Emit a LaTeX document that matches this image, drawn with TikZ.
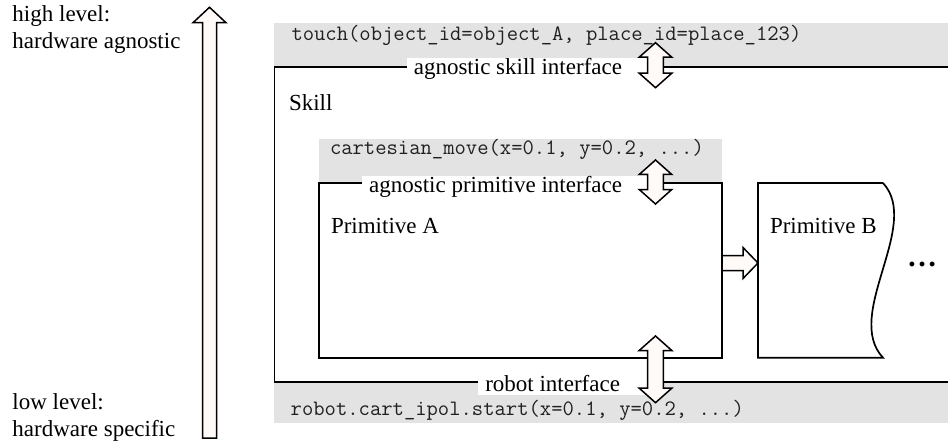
\documentclass[tikz,border=0pt]{standalone}
\usepackage{fontspec}
\setmainfont{Liberation Serif}
\definecolor{codebg}{HTML}{E3E3E3}
\definecolor{codefg}{HTML}{202020}
\definecolor{arrowfill}{HTML}{FFF9F7}

% vertical two-headed interface arrow: centre x, top tip y, bottom tip y
\newcommand\ifacearrow[3]{%
  \draw[hollow] (#1,#2) -- ++(16.3,14.5) -- ++(-8.5,0) -- (#1+7.8,#3-14.5)
    -- ++(8.5,0) -- (#1,#3) -- ++(-16.3,-14.5) -- ++(8.5,0)
    -- (#1-7.8,#2+14.5) -- ++(-8.5,0) -- cycle;}

\begin{document}
\begin{tikzpicture}[x=1pt,y=-1pt,
  every node/.style={inner sep=0pt, outer sep=0pt},
  txt/.style={font=\fontsize{23}{27}\selectfont},
  code/.style={font=\fontsize{22}{24}\selectfont\ttfamily, text=codefg},
  frame/.style={draw=black, line width=1.7pt},
  iface/.style={txt, fill=white, inner xsep=7pt, inner ysep=0.4pt, text depth=2.6pt},
  hollow/.style={draw=black, line width=1.5pt, fill=arrowfill, line join=miter},
]
\useasboundingbox (0,0) rectangle (948,441);
\coordinate (shaft) at (648,0);

% abstraction scale on the left
\node[txt, align=left, anchor=north west] (high) at (12.5,6) {high level:\\hardware agnostic};
\node[txt, align=left, anchor=north west] (low) at (12.5,393.8) {low level:\\hardware specific};
\draw[hollow] (209.5,7.3) -- (226,22.7) -- (216.5,22.7) -- (216.5,438)
  -- (202.5,438) -- (202.5,22.7) -- (193,22.7) -- cycle;

% code bands
\fill[codebg] (274,23) rectangle (948,66);
\fill[codebg] (319,139) rectangle (722,183);
\fill[codebg] (274,382) rectangle (948,423);
\node[code, anchor=base west] (touch) at (291.5,40.5) {touch(object\_id=object\_A, place\_id=place\_123)};
\node[code, anchor=base west] (cmove) at (330,155) {cartesian\_move(x=0.1, y=0.2, ...)};
\node[code, anchor=base west] (ipol) at (290.7,415) {robot.cart\_ipol.start(x=0.1, y=0.2, ...)};

% skill frame (runs on past the right edge)
\draw[frame] (950,66.7) -- (274.5,66.7) -- (274.5,381.7) -- (950,381.7);
\node[txt, anchor=base west] (skill) at (289,110.7) {Skill};

% primitives
\draw[frame] (319,183) rectangle (722,357.7);
\node[txt, anchor=base west] (primA) at (331,233) {Primitive A};
\draw[frame, fill=white] (883,183) -- (758,183) -- (758,357.7) -- (883,357.7)
  .. controls (843,315) and (922,225) .. (883,183);
\node[txt, anchor=base west] (primB) at (770,233) {Primitive B};
\node[font=\fontsize{30}{30}\selectfont\bfseries, anchor=base] (more) at (922,266) {…};

% interface labels sitting on the frame lines
\node[iface, anchor=base east] (skillif) at (629,75) {agnostic skill interface};
\fill[white] (skillif.north east) rectangle (shaft |- skillif.south);
\node[iface, anchor=base east] (primif) at (629,192.7) {agnostic primitive interface};
\fill[white] (primif.north east) rectangle (shaft |- primif.south);
\node[iface, anchor=base east] (robotif) at (627,391.7) {robot interface};
\fill[white] (robotif.north east) rectangle (shaft |- robotif.south);

% interface arrows
\ifacearrow{655.5}{42.7}{87.7}
\ifacearrow{655.5}{160}{204}
\ifacearrow{655.5}{336}{402.7}

% hand-over from primitive A to primitive B
\draw[hollow] (722,255.5) -- (743,255.5) -- (743,247.5) -- (758,263)
  -- (743,278.5) -- (743,270.5) -- (722,270.5) -- cycle;
\end{tikzpicture}
\end{document}
